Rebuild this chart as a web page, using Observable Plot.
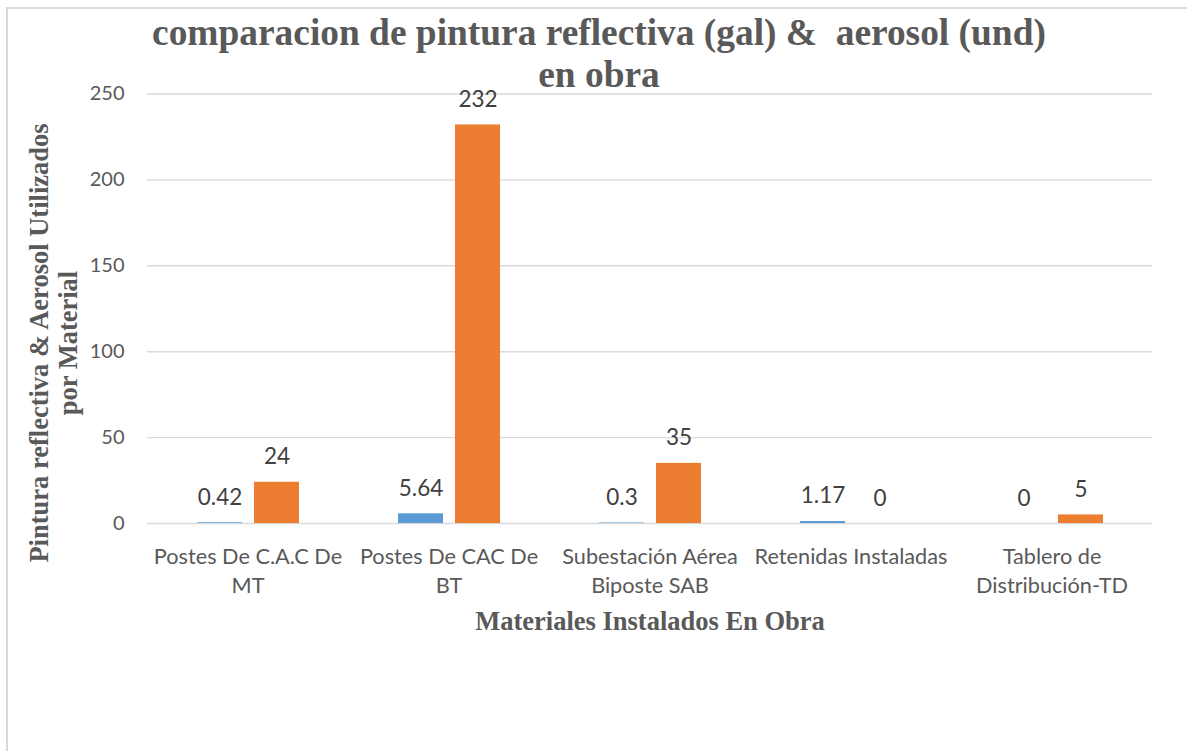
<!DOCTYPE html>
<html><head><meta charset="utf-8">
<script src="https://cdn.jsdelivr.net/npm/d3@7"></script>
<script src="https://cdn.jsdelivr.net/npm/@observablehq/plot@0.6"></script>
<style>
body{margin:0;background:#fff;}
#wrap{position:relative;width:1187px;height:751px;overflow:hidden;background:#fff;}
#chart{position:absolute;left:0;top:0;}
#frame{position:absolute;left:6px;top:7px;width:1300px;height:900px;border-top:2px solid #d9d9d9;border-left:2px solid #d9d9d9;pointer-events:none;}
#title{position:absolute;left:0;top:11.5px;width:1198px;text-align:center;font-family:"Liberation Serif","Times New Roman",serif;font-weight:bold;font-size:37.4px;line-height:42px;color:#595959;white-space:pre;}
#xlabel{position:absolute;left:350px;top:606px;width:600px;text-align:center;font-family:"Liberation Serif",serif;font-weight:bold;font-size:26.5px;line-height:30px;color:#595959;}
#ylabel{position:absolute;left:-246.5px;top:314px;width:600px;height:58px;text-align:center;font-family:"Liberation Serif",serif;font-weight:bold;font-size:26.5px;line-height:29px;color:#595959;transform:rotate(-90deg);}
</style>
</head><body>
<div id="wrap">
<div id="chart"></div>
<div id="frame"></div>
<div id="title">comparacion de pintura reflectiva (gal) &amp;  aerosol (und)
en obra</div>
<div id="ylabel">Pintura reflectiva &amp; Aerosol Utilizados<br>por Material</div>
<div id="xlabel">Materiales Instalados En Obra</div>
</div>
<script>
const categories = ["Postes De C.A.C De MT", "Postes De CAC De BT", "Subestación Aérea Biposte SAB", "Retenidas Instaladas", "Tablero de Distribución-TD"];
const tickLabels = ["Postes De C.A.C De\nMT", "Postes De CAC De\nBT", "Subestación Aérea\nBiposte SAB", "Retenidas Instaladas", "Tablero de\nDistribución-TD"];
const series = ["Pintura reflectiva (gal)", "Aerosol (und)"];
const pintura = [0.42, 5.64, 0.3, 1.17, 0];
const aerosol = [24, 232, 35, 0, 5];
const yTicks = [0, 50, 100, 150, 200, 250];
const colors = ["#5b9bd5", "#ed7d31"];

const data = [];
categories.forEach((c, i) => {
  data.push({category: c, series: series[0], value: pintura[i]});
  data.push({category: c, series: series[1], value: aerosol[i]});
});

const plot = Plot.plot({
  width: 1187,
  height: 751,
  marginLeft: 146,
  marginRight: 34,
  marginTop: 93.5,
  marginBottom: 228,
  style: {background: "transparent", color: "#595959"},
  fx: {domain: categories, padding: 0, label: null},
  x: {domain: series, paddingInner: 0.2155, paddingOuter: 0.844, axis: null},
  y: {domain: [0, 250]},
  color: {domain: series, range: colors},
  marks: [
    Plot.gridY(yTicks, {stroke: "#d9d9d9", strokeOpacity: 1, strokeWidth: 1.4}),
    Plot.axisY(yTicks, {tickSize: 0, tickPadding: 23, fontSize: 20, fontFamily: "Lato", fill: "#595959", label: null}),
    Plot.axisFx({anchor: "bottom", tickSize: 0, tickPadding: 19.5, fontSize: 21.7, lineHeight: 1.36, fontFamily: "Lato", fill: "#595959", label: null,
      tickFormat: d => tickLabels[categories.indexOf(d)]}),
    Plot.barY(data, {fx: "category", x: "series", y: "value", fill: "series"}),
    Plot.text(data, {fx: "category", x: "series", y: "value", text: d => String(d.value), dy: -18, lineAnchor: "bottom",
      fontSize: 22.5, fontFamily: "Lato", fill: "#404040"})
  ]
});
document.getElementById("chart").appendChild(plot);
</script>
</body></html>
